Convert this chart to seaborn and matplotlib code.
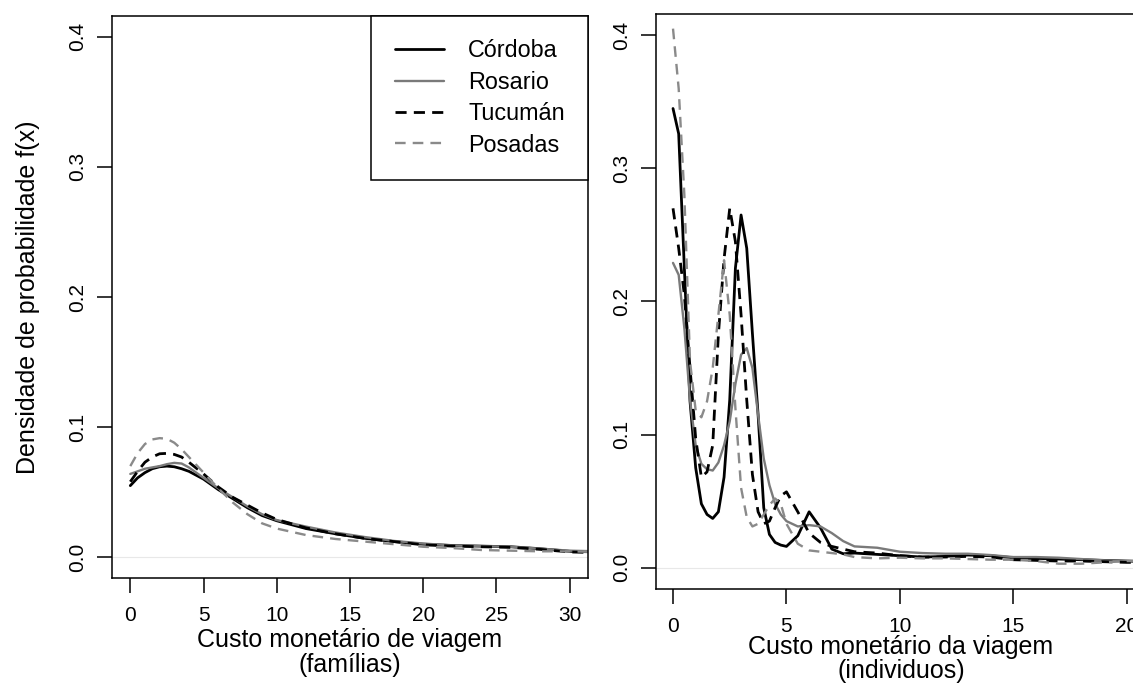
import numpy as np
import pandas as pd
import matplotlib
matplotlib.use("Agg")
import matplotlib.pyplot as plt
import seaborn as sns

# ---------------- data ----------------
cities = ["Córdoba", "Rosario", "Tucumán", "Posadas"]

# left panel: familias
x_fam = [0, 0.5, 1, 1.5, 2, 2.5, 3, 3.5, 4, 5, 6, 7, 8, 9, 10, 12, 14, 16, 18, 20,
         22, 24, 26, 28, 30, 32]
cordoba_fam = [0.055, 0.061, 0.065, 0.068, 0.0695, 0.070, 0.0695, 0.068, 0.066, 0.060,
               0.052, 0.045, 0.038, 0.032, 0.028, 0.022, 0.018, 0.0145, 0.012, 0.010,
               0.009, 0.0085, 0.008, 0.0065, 0.0045, 0.004]
rosario_fam = [0.064, 0.066, 0.068, 0.069, 0.070, 0.0715, 0.0725, 0.072, 0.069, 0.061,
               0.053, 0.046, 0.039, 0.033, 0.0285, 0.0235, 0.019, 0.0155, 0.0125, 0.0105,
               0.009, 0.0085, 0.008, 0.0065, 0.005, 0.0045]
tucuman_fam = [0.058, 0.066, 0.073, 0.077, 0.0795, 0.0798, 0.079, 0.077, 0.073, 0.064,
               0.054, 0.046, 0.040, 0.034, 0.029, 0.0225, 0.018, 0.0145, 0.012, 0.0095,
               0.0085, 0.008, 0.0075, 0.006, 0.004, 0.0035]
posadas_fam = [0.070, 0.080, 0.087, 0.0905, 0.0915, 0.091, 0.088, 0.083, 0.077, 0.065,
               0.053, 0.042, 0.033, 0.026, 0.022, 0.017, 0.014, 0.012, 0.010, 0.008,
               0.007, 0.0055, 0.005, 0.0045, 0.0045, 0.004]

# right panel: individuos
x_ind = [0, 0.25, 0.5, 0.75, 1, 1.25, 1.5, 1.75, 2, 2.25, 2.5, 2.75, 3, 3.25, 3.5, 3.75,
         4, 4.25, 4.5, 4.75, 5, 5.5, 6, 6.5, 7, 7.5, 8, 9, 10, 11, 12, 13, 14, 15, 16,
         17, 18, 19, 20, 21]
cordoba_ind = [0.345, 0.326, 0.225, 0.125, 0.075, 0.048, 0.040, 0.037, 0.042, 0.068,
               0.126, 0.225, 0.265, 0.240, 0.176, 0.115, 0.045, 0.025, 0.019, 0.017,
               0.016, 0.024, 0.042, 0.030, 0.014, 0.0105, 0.011, 0.010, 0.009, 0.008,
               0.0085, 0.0095, 0.009, 0.0075, 0.007, 0.0065, 0.006, 0.0055, 0.005, 0.0045]
rosario_ind = [0.229, 0.220, 0.180, 0.126, 0.092, 0.078, 0.074, 0.073, 0.079, 0.092,
               0.110, 0.138, 0.160, 0.165, 0.150, 0.115, 0.082, 0.062, 0.048, 0.040,
               0.035, 0.031, 0.032, 0.031, 0.026, 0.020, 0.016, 0.015, 0.012, 0.011,
               0.0105, 0.0105, 0.0095, 0.008, 0.008, 0.0075, 0.0065, 0.0055, 0.005, 0.005]
tucuman_ind = [0.270, 0.240, 0.205, 0.150, 0.097, 0.068, 0.072, 0.092, 0.175, 0.232,
               0.270, 0.245, 0.190, 0.126, 0.070, 0.042, 0.033, 0.035, 0.045, 0.054,
               0.057, 0.042, 0.026, 0.019, 0.016, 0.014, 0.012, 0.011, 0.009, 0.008,
               0.008, 0.0085, 0.008, 0.006, 0.0055, 0.005, 0.005, 0.0045, 0.004, 0.004]
posadas_ind = [0.405, 0.360, 0.280, 0.155, 0.118, 0.113, 0.125, 0.150, 0.190, 0.231,
               0.190, 0.120, 0.060, 0.038, 0.031, 0.033, 0.040, 0.047, 0.052, 0.048,
               0.033, 0.018, 0.013, 0.012, 0.011, 0.010, 0.008, 0.007, 0.0075, 0.007,
               0.007, 0.0065, 0.006, 0.006, 0.005, 0.003, 0.003, 0.004, 0.005, 0.005]

x_ticks_fam = [0, 5, 10, 15, 20, 25, 30]
x_ticks_ind = [0, 5, 10, 15, 20]
y_ticks = [0.0, 0.1, 0.2, 0.3, 0.4]
y_ticklabels = ["0.0", "0.1", "0.2", "0.3", "0.4"]

# ---------------- style ----------------
sns.set_style("ticks")
plt.rcParams["font.family"] = ["Liberation Sans", "DejaVu Sans"]
plt.rcParams["text.color"] = "black"
plt.rcParams["axes.labelcolor"] = "black"
plt.rcParams["xtick.color"] = "black"
plt.rcParams["ytick.color"] = "black"
plt.rcParams["xtick.labelcolor"] = "black"
plt.rcParams["ytick.labelcolor"] = "black"
plt.rcParams["axes.edgecolor"] = "black"
plt.rcParams["axes.linewidth"] = 1.1

styles = {
    "Córdoba": dict(color="black", lw=2.0, ls="-"),
    "Rosario": dict(color="#7a7a7a", lw=1.7, ls="-"),
    "Tucumán": dict(color="black", lw=2.0, ls=(0, (4, 2.6))),
    "Posadas": dict(color="#8a8a8a", lw=1.7, ls=(0, (4.5, 3))),
}

W, H = 1133, 684
fig = plt.figure(figsize=(W / 100, H / 100), dpi=100)

ax1 = fig.add_axes([112 / W, (H - 578) / H, 476 / W, 562 / H])
ax2 = fig.add_axes([656 / W, (H - 589) / H, 490 / W, 575 / H])


def draw(ax, x, series, labels):
    ax.axhline(0, color="#e8e8e8", lw=0.8, zorder=0)
    for name, ys in zip(cities, series):
        st = styles[name]
        sns.lineplot(x=x, y=ys, ax=ax, color=st["color"], linewidth=st["lw"],
                     linestyle=st["ls"], label=name if labels else None,
                     legend=False, sort=False)


draw(ax1, x_fam, [cordoba_fam, rosario_fam, tucuman_fam, posadas_fam], True)
draw(ax2, x_ind, [cordoba_ind, rosario_ind, tucuman_ind, posadas_ind], False)

ax1.set_xlim(-1.25, 31.25)
ax2.set_xlim(-0.75, 20.85)
for ax in (ax1, ax2):
    ax.set_ylim(-0.016, 0.416)
    ax.set_yticks(y_ticks)
    ax.set_yticklabels(y_ticklabels)
    ax.tick_params(axis="both", length=11, width=1.1, labelsize=15,
                   direction="out", colors="black")
    ax.tick_params(axis="x", pad=9.5)
    ax.tick_params(axis="y", pad=7, labelrotation=90)
    for lab in ax.get_yticklabels():
        lab.set_va("center")
    for sp in ax.spines.values():
        sp.set_visible(True)
        sp.set_color("black")
        sp.set_linewidth(1.1)

ax1.set_xticks(x_ticks_fam)
ax2.set_xticks(x_ticks_ind)

ax1.set_xlabel("Custo monetário de viagem\n(famílias)", fontsize=18, labelpad=1.5,
               linespacing=1.1)
ax2.set_xlabel("Custo monetário da viagem\n(individuos)", fontsize=18, labelpad=-1,
               linespacing=1.02)
ax1.set_ylabel("Densidade de probabilidade f(x)", fontsize=18, labelpad=20)
ax2.set_ylabel("")

leg = ax1.legend(loc="upper right", bbox_to_anchor=(1, 1), borderaxespad=0,
                 fontsize=16.8, frameon=True, fancybox=False, handlelength=2.1,
                 handletextpad=1.05, borderpad=1.0, labelspacing=0.36)
leg.get_frame().set_edgecolor("black")
leg.get_frame().set_linewidth(1.1)
leg.get_frame().set_alpha(1)

fig.savefig("out.png", dpi=100)
